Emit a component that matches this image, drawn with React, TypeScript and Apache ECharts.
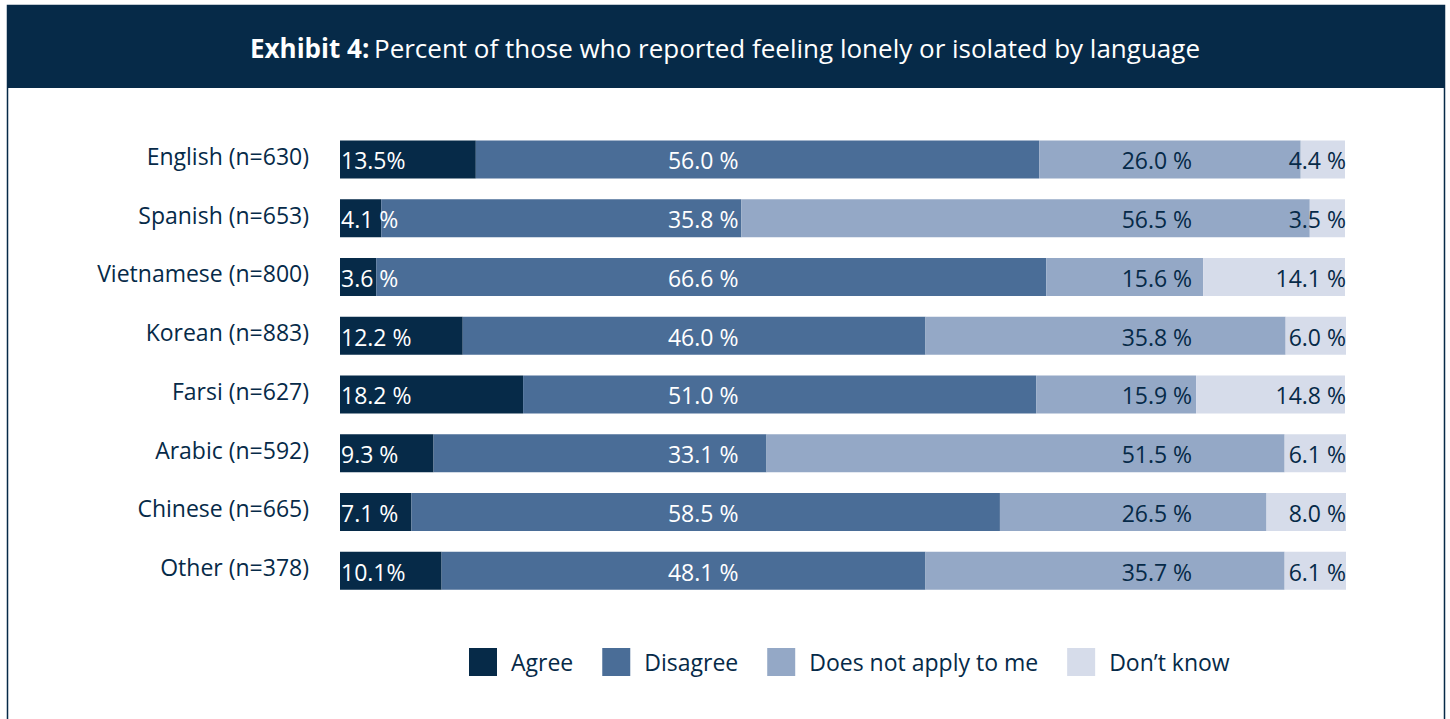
import React, { useEffect, useRef } from "react";
import * as echarts from "echarts";

const categories = [
  "English (n=630)",
  "Spanish (n=653)",
  "Vietnamese (n=800)",
  "Korean (n=883)",
  "Farsi (n=627)",
  "Arabic (n=592)",
  "Chinese (n=665)",
  "Other (n=378)",
];
const agree = [13.5, 4.1, 3.6, 12.2, 18.2, 9.3, 7.1, 10.1];
const disagree = [56.0, 35.8, 66.6, 46.0, 51.0, 33.1, 58.5, 48.1];
const notApply = [26.0, 56.5, 15.6, 35.8, 15.9, 51.5, 26.5, 35.7];
const dontKnow = [4.4, 3.5, 14.1, 6.0, 14.8, 6.1, 8.0, 6.1];
// Agree labels printed without a space before "%" in the source
const agreeNoSpace = [0, 7];

const seriesNames = ["Agree", "Disagree", "Does not apply to me", "Don\u2019t know"];

const NAVY = "#062a48";
const colors = ["#062a48", "#4a6d97", "#94a8c6", "#d6dcea"];
const FONT = "'Open Sans', 'Noto Sans', sans-serif";

export default function App() {
  const ref = useRef<HTMLDivElement>(null);
  useEffect(() => {
    if (!ref.current) return;
    const chart = echarts.init(ref.current, null, { renderer: "svg" });
    const values = [agree, disagree, notApply, dontKnow];

    // label anchors (axis units) and alignments for each group of labels
    const anchors = [0, 36.1, 81.2, 100];
    const aligns = ["left", "center", "center", "right"];
    const dx = [1, 0, 0, 0];
    const textColors = ["#ffffff", "#ffffff", NAVY, NAVY];

    const fmt = (g: number, i: number, v: number) =>
      g === 0 && agreeNoSpace.includes(i) ? `${v.toFixed(1)}%` : `${v.toFixed(1)} %`;

    const barSeries = values.map((vals, g) => ({
      name: seriesNames[g],
      type: "bar",
      stack: "total",
      barWidth: 38,
      itemStyle: { color: colors[g] },
      data: vals,
      emphasis: { disabled: true },
    }));

    const labelSeries = values.map((vals, g) => ({
      type: "custom",
      silent: true,
      z: 10,
      data: categories.map((c, i) => [anchors[g], i, vals[i]]),
      encode: { x: 0, y: 1 },
      renderItem: (params: any, api: any) => {
        const pt = api.coord([api.value(0), api.value(1)]);
        const idx = params.dataIndex;
        return {
          type: "text",
          x: pt[0] + dx[g],
          y: pt[1] + 1,
          style: {
            text: fmt(g, idx, api.value(2)),
            fill: textColors[g],
            font: `400 23px ${FONT}`,
            align: aligns[g],
            verticalAlign: "middle",
          },
        };
      },
    }));

    chart.setOption({
      animation: false,
      textStyle: { fontFamily: FONT },
      title: {
        text: "{b|Exhibit 4:} {n|Percent of those who reported feeling lonely or isolated by language}",
        left: "center",
        top: 30,
        textStyle: {
          rich: {
            b: { fontFamily: FONT, fontSize: 26, fontWeight: "bold", color: "#ffffff" },
            n: { fontFamily: FONT, fontSize: 26, fontWeight: "normal", color: "#ffffff" },
          },
        },
      },
      graphic: [
        {
          type: "rect",
          z: -10,
          shape: { x: 7.5, y: 5.5, width: 1437, height: 730 },
          style: { fill: "#ffffff", stroke: NAVY, lineWidth: 1.5 },
        },
        {
          type: "rect",
          z: -5,
          shape: { x: 7, y: 5, width: 1438, height: 83 },
          style: { fill: NAVY },
        },
      ],
      legend: {
        left: 464,
        top: 643,
        itemWidth: 28,
        itemHeight: 28,
        itemGap: 29,
        icon: "rect",
        selectedMode: false,
        data: seriesNames,
        textStyle: { fontFamily: FONT, fontSize: 23, color: NAVY, padding: [0, 0, 0, 9] },
      },
      grid: { left: 340, right: 104, top: 130, bottom: 119, containLabel: false },
      xAxis: {
        type: "value",
        min: 0,
        max: 100,
        show: false,
      },
      yAxis: {
        type: "category",
        inverse: true,
        data: categories,
        axisLine: { show: false },
        axisTick: { show: false },
        axisLabel: {
          margin: 31,
          fontFamily: FONT,
          fontSize: 23,
          color: NAVY,
          verticalAlign: "bottom",
          lineHeight: 7,
        },
      },
      series: [...barSeries, ...labelSeries],
    });
    return () => chart.dispose();
  }, []);
  return (
    <div
      ref={ref}
      style={{ position: "fixed", left: 0, top: 0, width: 1450, height: 719, background: "#ffffff" }}
    />
  );
}
